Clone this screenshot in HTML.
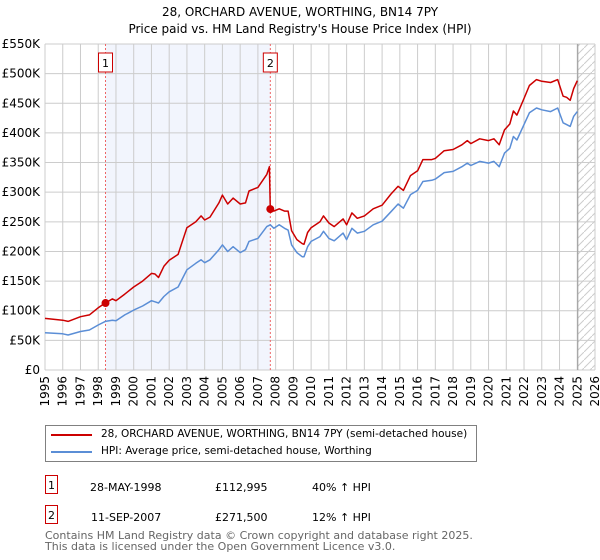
<!DOCTYPE html>
<html><head><meta charset="utf-8"><style>
body{margin:0;background:#fff;font-family:"DejaVu Sans","Liberation Sans",sans-serif;}
#wrap{position:relative;width:600px;height:560px;overflow:hidden;}
.t{position:absolute;font-size:11px;color:#000;white-space:nowrap;}
.box{position:absolute;border:1px solid #c00;width:13px;height:19px;font-size:11px;text-align:center;line-height:19px;box-sizing:border-box;}
</style></head><body><div id="wrap">
<svg id="chart" width="600" height="410" style="position:absolute;left:0;top:0"></svg>
<div style="position:absolute;left:45px;top:425px;width:430px;height:35px;border:1px solid #808080;">
 <div><div style="position:absolute;left:5px;top:8px;width:41px;height:2px;background:#c00"></div><div class="t" style="left:55px;top:2px;font-size:10.5px">28, ORCHARD AVENUE, WORTHING, BN14 7PY (semi-detached house)</div></div>
 <div><div style="position:absolute;left:5px;top:25px;width:41px;height:2px;background:#5b8ed6"></div><div class="t" style="left:55px;top:19px;font-size:10.5px">HPI: Average price, semi-detached house, Worthing</div></div>
</div>
<div>
<div class="box" style="left:45px;top:475px">1</div>
<div class="t" style="left:90px;top:481px">28-MAY-1998</div><div class="t" style="left:215px;top:481px">£112,995</div><div class="t" style="left:312px;top:481px">40% ↑ HPI</div></div>
<div>
<div class="box" style="left:45px;top:505px">2</div>
<div class="t" style="left:91px;top:511px">11-SEP-2007</div><div class="t" style="left:215px;top:511px">£271,500</div><div class="t" style="left:312px;top:511px">12% ↑ HPI</div></div>
<div class="t" style="left:45px;top:530px;color:#666;line-height:11px">Contains HM Land Registry data © Crown copyright and database right 2025.<br>This data is licensed under the Open Government Licence v3.0.</div>
</div>
<script>
const hpiYears=[1995,1996,1996.3,1997,1997.5,1998,1998.4,1998.8,1999,1999.5,2000,2000.5,2001,2001.2,2001.4,2001.7,2002,2002.5,2003,2003.5,2003.8,2004,2004.3,2004.8,2005,2005.3,2005.6,2006,2006.3,2006.5,2007,2007.5,2007.7,2007.9,2008.2,2008.5,2008.7,2008.9,2009.2,2009.5,2009.6,2009.8,2010,2010.5,2010.7,2011,2011.3,2011.8,2012,2012.3,2012.6,2013,2013.5,2014,2014.5,2014.9,2015.2,2015.6,2016,2016.3,2016.8,2017,2017.5,2018,2018.5,2018.8,2019,2019.5,2020,2020.3,2020.6,2020.9,2021.2,2021.4,2021.6,2022,2022.3,2022.7,2023,2023.5,2023.9,2024.2,2024.4,2024.6,2024.8,2025];
const hpiValues=[63,61,59,65,67.5,76,82,84,83,93,101,108,117,115,113,124,132,140,169,180,186,181,186,203,211,200,208,198,203,217,222,242,245,239,245,239,236,211,198,191,191,208,217,225,234,222,218,231,220,239,231,234,245,251,267,280,273,296,303,318,320,322,333,335,343,349,345,352,349,352,343,366,374,394,388,414,434,442,439,436,442,417,414,411,428,436];
const priceYears=[1995,1996,1996.3,1997,1997.5,1998,1998.4,1998.8,1999,1999.5,2000,2000.5,2001,2001.2,2001.4,2001.7,2002,2002.5,2003,2003.5,2003.8,2004,2004.3,2004.8,2005,2005.3,2005.6,2006,2006.3,2006.5,2007,2007.5,2007.65,2007.7,2007.9,2008.2,2008.5,2008.7,2008.9,2009.2,2009.5,2009.6,2009.8,2010,2010.5,2010.7,2011,2011.3,2011.8,2012,2012.3,2012.6,2013,2013.5,2014,2014.5,2014.9,2015.2,2015.6,2016,2016.3,2016.8,2017,2017.5,2018,2018.5,2018.8,2019,2019.5,2020,2020.3,2020.6,2020.9,2021.2,2021.4,2021.6,2022,2022.3,2022.7,2023,2023.5,2023.9,2024.2,2024.4,2024.6,2024.8,2025];
const priceValues=[87,84,82,90,93,105,113,120,117,128,140,150,163,162,156,175,185,195,240,250,260,253,258,282,295,280,290,280,282,302,308,330,343,271.5,268,272,268,268,235,220,213,212,232,240,250,260,248,242,255,245,265,256,260,272,278,297,310,303,328,336,355,355,357,370,372,380,387,382,390,387,390,380,405,415,437,430,458,480,490,487,485,490,462,460,455,475,488];
const saleYears=[1998.41,2007.7];
const saleValues=[112.995,271.5];
const yTicks=[0,50,100,150,200,250,300,350,400,450,500,550];
const yTickLabels=["£0","£50K","£100K","£150K","£200K","£250K","£300K","£350K","£400K","£450K","£500K","£550K"];
const xTicks=[];for(let y=1995;y<=2026;y++)xTicks.push(y);

const X0=45,X1=595,Y0=370,Y1=44;
const xs=v=>X0+(v-1995)/(2026-1995)*(X1-X0);
const ys=v=>Y0-v/550*(Y0-Y1);
const svg=document.getElementById('chart');const NS='http://www.w3.org/2000/svg';
function mk(t,a,p){const e=document.createElementNS(NS,t);for(const k in a)e.setAttribute(k,a[k]);(p||svg).appendChild(e);return e;}
let e;
e=mk('text',{x:300,y:16,'text-anchor':'middle','font-size':12,'font-family':'DejaVu Sans,Liberation Sans,sans-serif'});e.textContent="28, ORCHARD AVENUE, WORTHING, BN14 7PY";


e=mk('text',{x:300,y:33,'text-anchor':'middle','font-size':12,'font-family':'DejaVu Sans,Liberation Sans,sans-serif'});e.textContent="Price paid vs. HM Land Registry's House Price Index (HPI)";


e=mk('rect',{x:xs(saleYears[0]),y:Y1,width:xs(saleYears[1])-xs(saleYears[0]),height:Y0-Y1,fill:'#f2f5fd'});


const defs=mk('defs',{});const pat=mk('pattern',{id:'hatch',width:8,height:8,patternUnits:'userSpaceOnUse'},defs);
mk('path',{d:'M0,8 L8,0',stroke:'#ccc','stroke-width':1},pat);
e=mk('rect',{x:xs(2025.03),y:Y1,width:X1-xs(2025.03),height:Y0-Y1,fill:'url(#hatch)'});


yTicks.forEach((v,i)=>{
 e=mk('line',{x1:X0,x2:X1,y1:ys(v),y2:ys(v),stroke:'#ccc','stroke-width':1});
 
 
 e=mk('text',{x:40,y:ys(v)+4,'text-anchor':'end','font-size':12,'font-family':'DejaVu Sans,Liberation Sans,sans-serif'});e.textContent=yTickLabels[i];
 
 
});
xTicks.forEach(v=>{
 e=mk('line',{x1:xs(v),x2:xs(v),y1:Y1,y2:Y0,stroke:'#ccc','stroke-width':1});
 
 
 e=mk('text',{x:xs(v)+4,y:Y0+6,'text-anchor':'end','font-size':12,'font-family':'DejaVu Sans,Liberation Sans,sans-serif',transform:`rotate(-90 ${xs(v)+4} ${Y0+6})`});e.textContent=v;
 
 
});
e=mk('line',{x1:xs(2025.03),x2:xs(2025.03),y1:Y1,y2:Y0,stroke:'#999','stroke-width':1});


saleYears.forEach((v,i)=>{
 e=mk('line',{x1:xs(v),x2:xs(v),y1:Y1,y2:Y0,stroke:'#e66','stroke-width':1,'stroke-dasharray':'2,2'});
 
 
 e=mk('rect',{x:xs(v)-7,y:53,width:14,height:19,fill:'#fff',stroke:'#c00'});
 
 
 e=mk('text',{x:xs(v),y:67,'text-anchor':'middle','font-size':11,'font-family':'DejaVu Sans,sans-serif'});e.textContent=String(i+1);
 
 
});
function line(xa,va,col,name){const d=xa.map((x,i)=>(i?'L':'M')+xs(x).toFixed(1)+','+ys(va[i]).toFixed(1)).join('');
 const p=mk('path',{d,fill:'none',stroke:col,'stroke-width':1.5,'stroke-linejoin':'round'});
 
 }
line(hpiYears,hpiValues,'#5b8ed6','hpi-line');
line(priceYears,priceValues,'#c00','price-line');
saleYears.forEach((v,i)=>{
 e=mk('circle',{cx:xs(v),cy:ys(saleValues[i]),r:4,fill:'#c00'});
 
 
});
</script></body></html>
